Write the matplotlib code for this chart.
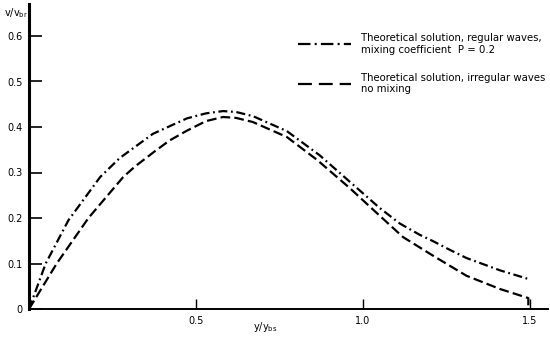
import matplotlib
matplotlib.use('Agg')
import matplotlib.pyplot as plt
from matplotlib.lines import Line2D

plt.rcParams['font.family'] = ['DejaVu Sans']
plt.rcParams['lines.scale_dashes'] = False

# regular waves, mixing coefficient P = 0.2 (dash-dot)
x_regular = [0, 0.05, 0.118, 0.213, 0.272, 0.371, 0.473, 0.53, 0.581, 0.62, 0.67,
             0.772, 0.87, 0.96, 1.05, 1.11, 1.17, 1.21, 1.26, 1.31, 1.41, 1.495]
v_regular = [0, 0.10, 0.195, 0.29, 0.332, 0.385, 0.419, 0.43, 0.435, 0.433, 0.424,
             0.391, 0.338, 0.28, 0.222, 0.188, 0.163, 0.149, 0.13, 0.112, 0.085, 0.066]

# irregular waves, no mixing (dashed)
x_irregular = [0, 0.083, 0.178, 0.282, 0.317, 0.372, 0.42, 0.473, 0.53, 0.581, 0.62,
               0.67, 0.772, 0.862, 0.96, 1.05, 1.12, 1.21, 1.31, 1.41, 1.495, 1.495]
v_irregular = [0, 0.10, 0.20, 0.29, 0.313, 0.344, 0.37, 0.392, 0.413, 0.422, 0.42,
               0.411, 0.378, 0.328, 0.266, 0.205, 0.158, 0.117, 0.073, 0.044, 0.024, 0]

y_ticks = [0, 0.1, 0.2, 0.3, 0.4, 0.5, 0.6]
y_ticklabels = ['0', '0.1', '0.2', '0.3', '0.4', '0.5', '0.6']
x_ticks = [0.5, 1.0, 1.5]
x_ticklabels = ['0.5', '1.0', '1.5']

label_regular = 'Theoretical solution, regular waves,\nmixing coefficient  P = 0.2'
label_irregular = 'Theoretical solution, irregular waves\nno mixing'

W, H = 550, 338
fig = plt.figure(figsize=(W / 100, H / 100), dpi=100)
# axes box in pixels: y-axis at x=29, x-axis at y=309, top at y=4, right edge 548
ax = fig.add_axes([29 / W, 29 / H, (548 - 29) / W, (309 - 4) / H])
ax.set_xlim(0, (548 - 29) / 334)
ax.set_ylim(0, (309 - 4) / 455)

dashdot = (0, (6.5, 2.6, 1.3, 2.6))
dashed = (0, (7, 3))
ax.plot(x_regular, v_regular, color='black', lw=1.6, linestyle=dashdot)
ax.plot(x_irregular, v_irregular, color='black', lw=1.6, linestyle=dashed)

for side in ['top', 'right']:
    ax.spines[side].set_visible(False)
ax.spines['left'].set_linewidth(2.2)
ax.spines['bottom'].set_linewidth(1.4)

ax.set_yticks(y_ticks)
ax.set_yticklabels(y_ticklabels)
ax.set_xticks(x_ticks)
ax.set_xticklabels(x_ticklabels)
ax.tick_params(axis='y', direction='in', length=9.5, width=1.2, pad=4.5, labelsize=7)
ax.tick_params(axis='x', direction='in', length=7, width=1.0, pad=5, labelsize=7)

# x label sits left of centre, under the 0.7 position
ax.text(0.707, -0.06, r'y/y$_{\mathrm{bs}}$', ha='center', va='center', fontsize=7,
        transform=ax.get_xaxis_transform(), clip_on=False)
fig.text(16 / W, 1 - 13 / H, r'v/v$_{\mathrm{br}}$', ha='center', va='center', fontsize=7)

handles = [Line2D([], [], color='black', lw=1.6, linestyle=(0, (9, 3, 1.5, 3))),
           Line2D([], [], color='black', lw=1.6, linestyle=(0, (10, 5)))]
ax.legend(handles, [label_regular, label_irregular], loc='upper left',
          bbox_to_anchor=(298 / W, 1 - 33 / H), bbox_transform=fig.transFigure,
          frameon=False, fontsize=7.3, handlelength=5.2, handletextpad=1.0,
          labelspacing=1.8, borderpad=0, borderaxespad=0)

fig.savefig('out.png', dpi=100)
